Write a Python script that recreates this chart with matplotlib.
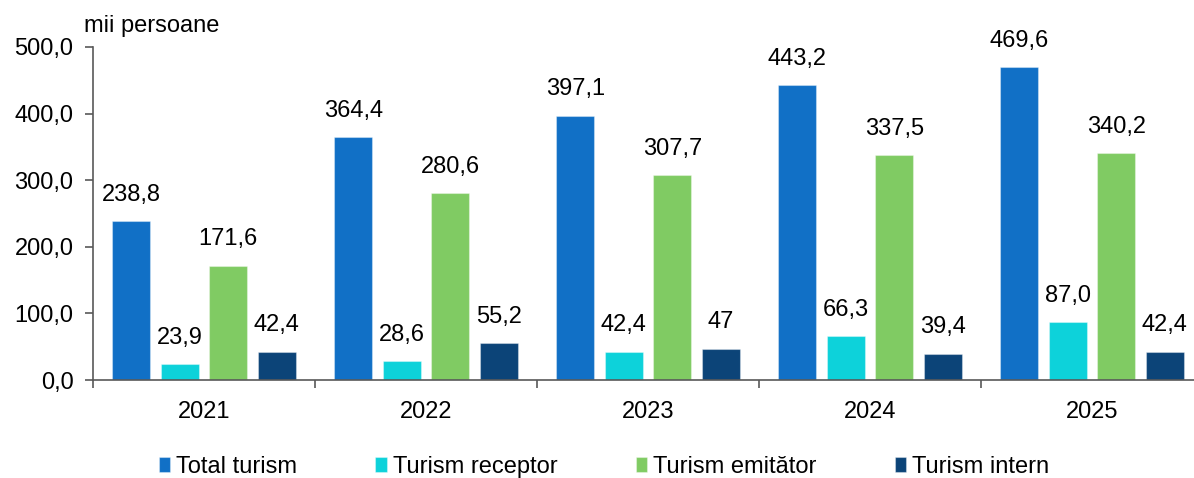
import matplotlib
matplotlib.use("Agg")
import matplotlib.pyplot as plt
import numpy as np

years = ["2021", "2022", "2023", "2024", "2025"]
series_names = ["Total turism", "Turism receptor", "Turism emitător", "Turism intern"]
total = [238.8, 364.4, 397.1, 443.2, 469.6]
receptor = [23.9, 28.6, 42.4, 66.3, 87.0]
emitator = [171.6, 280.6, 307.7, 337.5, 340.2]
intern = [42.4, 55.2, 47.0, 39.4, 42.4]
intern_labels = ["42,4", "55,2", "47", "39,4", "42,4"]
yticks = [0, 100, 200, 300, 400, 500]
colors = ["#1170C6", "#0DD2DA", "#80CB63", "#0C4478"]

plt.rcParams['font.family'] = ['Liberation Sans', 'DejaVu Sans']
fs = 17

fig = plt.figure(figsize=(11.94, 4.78), dpi=100)
ax = fig.add_axes([93/1194, 98/478, 1110/1194, 333/478])

x = np.arange(len(years))
bw = 38/222
step = 48.5/222
offsets = [-1.5*step, -0.5*step, 0.5*step, 1.5*step]
data = [total, receptor, emitator, intern]

def fmt(v):
    return f"{v:.1f}".replace('.', ',')

for i, (vals, c, name) in enumerate(zip(data, colors, series_names)):
    bars = ax.bar(x + offsets[i], vals, width=bw, color=c, label=name,
                  edgecolor=(1, 1, 1, 0.35), linewidth=0.8, zorder=2)
    labs = intern_labels if i == 3 else [fmt(v) for v in vals]
    ax.bar_label(bars, labels=labs, padding=11, fontsize=fs, color='black')

ax.set_xlim(-0.5, 4.5)
ax.set_ylim(0, 500)
ax.set_yticks(yticks)
ax.set_yticklabels([fmt(v) for v in yticks], fontsize=fs)
ax.set_xticks(np.arange(-0.5, 5.0, 1.0))
ax.set_xticklabels([])
ax.set_xticks(x, minor=True)
ax.set_xticklabels(years, minor=True, fontsize=fs)
ax.tick_params(axis='x', which='minor', length=0, pad=15)
ax.tick_params(axis='x', which='major', length=6, width=1.2, color='#595959', direction='out')
ax.tick_params(axis='y', length=6, width=1.2, color='#595959', direction='out', pad=8)

for s in ['top', 'right']:
    ax.spines[s].set_visible(False)
for s in ['left', 'bottom']:
    ax.spines[s].set_color('#595959')
    ax.spines[s].set_linewidth(1.2)

fig.text(84/1194, 1 - 32/478, "mii persoane", fontsize=fs, ha='left', va='baseline')

leg = fig.legend(loc='center', bbox_to_anchor=(604/1194, 1 - 467/478), ncol=4,
                 frameon=False, fontsize=fs, handlelength=0.5, handleheight=0.6,
                 handletextpad=0.25, columnspacing=3.3, borderaxespad=0)

fig.savefig("out.png", dpi=100)
